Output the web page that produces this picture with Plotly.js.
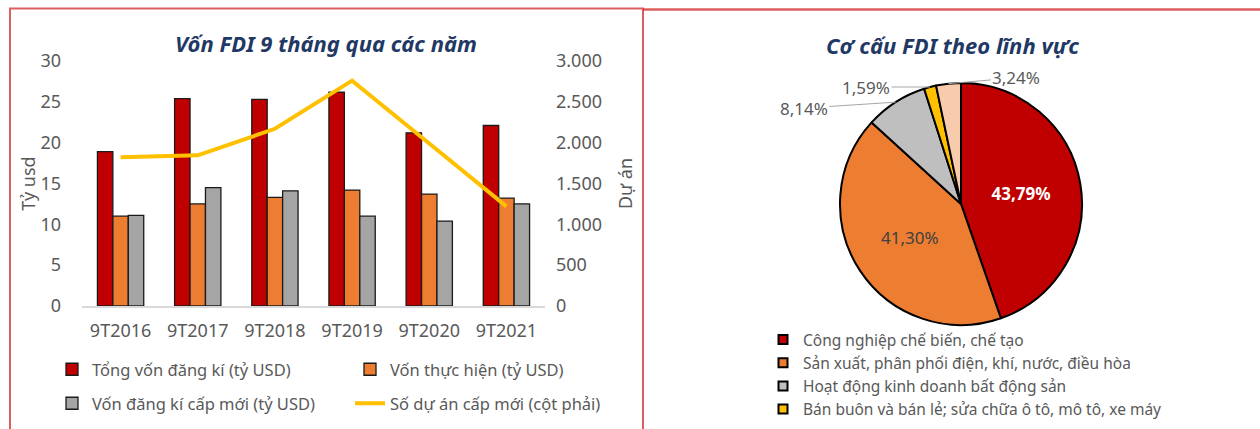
<!DOCTYPE html>
<html>
<head>
<meta charset="utf-8">
<script src="https://cdn.plot.ly/plotly-3.0.1.min.js"></script>
<style>html,body{margin:0;padding:0;background:#fff;}#chart{width:1260px;height:429px;}</style>
</head>
<body>
<div id="chart"></div>
<script>
// ---- data ----
const years = ["9T2016", "9T2017", "9T2018", "9T2019", "9T2020", "9T2021"];
const tongVon = [18.9, 25.4, 25.3, 26.2, 21.2, 22.1];
const vonThucHien = [11.0, 12.5, 13.3, 14.2, 13.7, 13.2];
const vonCapMoi = [11.1, 14.5, 14.1, 11.0, 10.4, 12.5];
const soDuAn = [1820, 1845, 2170, 2760, 1990, 1220];
const barNames = ["Tổng vốn đăng kí (tỷ USD)", "Vốn thực hiện (tỷ USD)", "Vốn đăng kí cấp mới (tỷ USD)", "Số dự án cấp mới (cột phải)"];

const sectors = ["Công nghiệp chế biến, chế tạo", "Sản xuất, phân phối điện, khí, nước, điều hòa", "Hoạt động kinh doanh bất động sản", "Bán buôn và bán lẻ; sửa chữa ô tô, mô tô, xe máy", "Khác"];
const sectorShare = [43.79, 41.30, 8.14, 1.59, 3.24];
const legendSectors = 4;

const title1 = "Vốn FDI 9 tháng qua các năm";
const title2 = "Cơ cấu FDI theo lĩnh vực";
const yTitle1 = "Tỷ usd";
const yTitle2 = "Dự án";

// ---- style ----
const FONT = "Noto Sans, Open Sans, DejaVu Sans, sans-serif";
const GRAY = "#595959";
const barColors = ["#C00000", "#ED7D31", "#A5A5A5"];
const lineColor = "#FFC000";
const pieColors = ["#C00000", "#ED7D31", "#BFBFBF", "#FFC000", "#F8CBAD"];
const W = 1260, H = 429;
const px = v => v / W, py = v => 1 - v / H;

// pie geometry (pixels) and outside-label offsets
const PIE = {x0: 840, x1: 1082, y0: 83, y1: 325};
const outsideOffsets = {2: [-92, 6], 3: [-64, 0], 4: [68, -6]};

const traces = [];
const barLegends = ["legend", "legend", "legend3"];
[tongVon, vonThucHien, vonCapMoi].forEach((vals, i) => {
  traces.push({
    type: "bar", x: years, y: vals, name: barNames[i],
    marker: {color: barColors[i], line: {color: "#1a1a1a", width: 1.3}},
    legend: barLegends[i], hoverinfo: "skip"
  });
});
traces.push({
  type: "scatter", mode: "lines", x: years, y: soDuAn, yaxis: "y2",
  name: barNames[3], line: {color: lineColor, width: 4}, legend: "legend3", hoverinfo: "skip"
});

// pie
const fmtPct = v => v.toFixed(2).replace(".", ",") + "%";
const pieText = sectorShare.map((v, i) => (i in outsideOffsets) ? "" : (i === 0 ? "<b>" + fmtPct(v) + "</b>" : fmtPct(v)));
traces.push({
  type: "pie", values: sectorShare, labels: sectors, sort: false, direction: "clockwise", rotation: 0,
  marker: {colors: pieColors, line: {color: "#000", width: 2}},
  text: pieText, textinfo: "text", textposition: "inside",
  insidetextorientation: "horizontal",
  textfont: {family: FONT, size: 17, color: ["#ffffff", "#404040", GRAY, GRAY, GRAY]},
  domain: {x: [px(PIE.x0), px(PIE.x1)], y: [py(PIE.y1), py(PIE.y0)]},
  showlegend: false, automargin: false, hoverinfo: "skip"
});
// pie legend entries (only the first four sectors appear in the legend)
for (let i = 0; i < legendSectors; i++) {
  traces.push({
    type: "scatter", mode: "markers", x: [null], y: [null], name: sectors[i],
    marker: {symbol: "square", size: 9, color: pieColors[i], line: {color: "#000", width: 2}},
    legend: "legend2", hoverinfo: "skip"
  });
}

// outside labels for the small slices, placed at each slice's outer edge
const total = sectorShare.reduce((a, b) => a + b, 0);
const cx = (PIE.x0 + PIE.x1) / 2, cy = (PIE.y0 + PIE.y1) / 2, R = (PIE.x1 - PIE.x0) / 2;
const pieAnnots = [];
let cum = 0;
sectorShare.forEach((v, i) => {
  const mid = (cum + v / 2) / total * 2 * Math.PI;
  cum += v;
  if (!(i in outsideOffsets)) return;
  const ex = cx + R * Math.sin(mid), ey = cy - R * Math.cos(mid);
  pieAnnots.push({
    text: fmtPct(v), xref: "paper", yref: "paper", x: px(ex), y: py(ey),
    ax: outsideOffsets[i][0], ay: outsideOffsets[i][1], showarrow: true, arrowhead: 0,
    arrowwidth: 1, arrowcolor: "#A6A6A6", standoff: 0,
    font: {family: FONT, size: 17, color: GRAY}
  });
});

const legendBase = {
  orientation: "h", xanchor: "left", yanchor: "top",
  entrywidth: 253, entrywidthmode: "pixels",
  font: {family: FONT, size: 16.5, color: GRAY}, traceorder: "normal",
  bgcolor: "rgba(0,0,0,0)", tracegroupgap: 0
};

const layout = {
  width: W, height: H,
  margin: {l: 0, r: 0, t: 0, b: 0},
  paper_bgcolor: "#fff", plot_bgcolor: "rgba(0,0,0,0)",
  separators: ",.",
  font: {family: FONT, color: GRAY, size: 16},
  barmode: "group", bargap: 0.40, bargroupgap: 0,
  showlegend: true,
  xaxis: {
    domain: [px(82), px(545)], type: "category",
    showline: true, linecolor: "#D9D9D9", linewidth: 1.5,
    ticks: "", showgrid: false, zeroline: false,
    tickfont: {family: FONT, size: 18, color: GRAY}, ticklabelstandoff: 8, fixedrange: true
  },
  yaxis: {
    domain: [py(306), py(61)], range: [0, 30], dtick: 5,
    showgrid: false, zeroline: false, showline: false, ticks: "",
    tickfont: {family: FONT, size: 18, color: GRAY}, ticklabelstandoff: 20,
    title: {text: yTitle1, font: {family: FONT, size: 18, color: GRAY}, standoff: 0}
  },
  yaxis2: {
    overlaying: "y", side: "right", range: [0, 3000], dtick: 500, tickformat: ",d",
    showgrid: false, zeroline: false, showline: false, ticks: "",
    tickfont: {family: FONT, size: 18, color: GRAY}, ticklabelstandoff: 10,
    title: {text: yTitle2, font: {family: FONT, size: 18, color: GRAY}, standoff: 18}
  },
  legend: Object.assign({}, legendBase, {x: px(52), y: py(352)}),
  legend3: Object.assign({}, legendBase, {x: px(52), y: py(386)}),
  legend2: {
    orientation: "v", x: px(763), y: py(323), xanchor: "left", yanchor: "top",
    font: {family: FONT, size: 15.5, color: GRAY}, traceorder: "normal",
    bgcolor: "rgba(0,0,0,0)", tracegroupgap: 0, itemwidth: 30
  },
  annotations: [
    {text: "<b><i>" + title1 + "</i></b>", xref: "paper", yref: "paper", x: px(326), y: py(43),
     xanchor: "center", yanchor: "middle", showarrow: false,
     font: {family: FONT, size: 22, color: "#1F3864"}},
    {text: "<b><i>" + title2 + "</i></b>", xref: "paper", yref: "paper", x: px(952), y: py(45),
     xanchor: "center", yanchor: "middle", showarrow: false,
     font: {family: FONT, size: 22, color: "#1F3864"}}
  ].concat(pieAnnots),
  shapes: [
    {type: "rect", xref: "paper", yref: "paper", x0: px(10), x1: px(643), y0: -0.2, y1: py(8.5),
     line: {color: "rgba(210,40,40,0.75)", width: 2}, fillcolor: "rgba(0,0,0,0)", layer: "below"},
    {type: "line", xref: "paper", yref: "paper", x0: px(643), x1: 1.01, y0: py(9.5), y1: py(9.5),
     line: {color: "rgba(210,40,40,0.75)", width: 2.5}}
  ]
};

Plotly.newPlot("chart", traces, layout, {staticPlot: true, displayModeBar: false});
</script>
</body>
</html>
